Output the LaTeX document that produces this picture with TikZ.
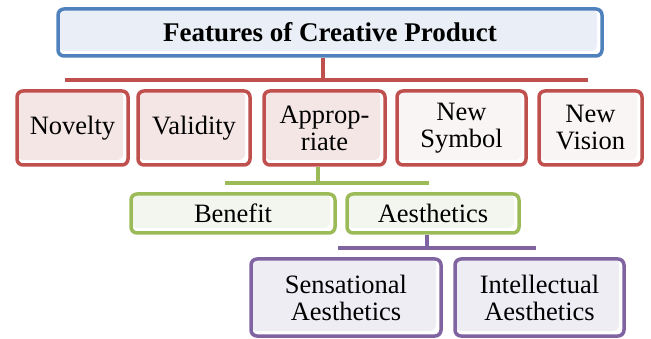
\documentclass[tikz,border=0pt]{standalone}
\usepackage{fontspec}
\setmainfont{Liberation Serif}

\definecolor{bluebd}{HTML}{4F81BD}
\definecolor{bluefl}{HTML}{EAEFF7}
\definecolor{redbd}{HTML}{C0504D}
\definecolor{redfl}{HTML}{F5E6E6}
\definecolor{redfltwo}{HTML}{FAF5F5}
\definecolor{greenbd}{HTML}{9BBB59}
\definecolor{greenfl}{HTML}{F3F6EE}
\definecolor{purplebd}{HTML}{8064A2}
\definecolor{purplefl}{HTML}{EFEDF4}

\tikzset{
	box/.style={draw,line width=3.5pt,rounded corners=6pt,align=center,inner sep=0pt,
		fill=white,font=\fontsize{26.5}{27}\selectfont,
		path picture={\fill[#1] (path picture bounding box.north west)
			rectangle ([shift={(-5pt,5pt)}]path picture bounding box.south east);}},
	featbox/.style={box=#1,draw=redbd,minimum height=74pt},
	featbox/.default=redfl,
	subbox/.style={box=greenfl,draw=greenbd,minimum height=39pt},
	aesbox/.style={box=purplefl,draw=purplebd,minimum height=77pt},
	bus/.style={line width=3.5pt}
}

\begin{document}
\begin{tikzpicture}[x=1pt,y=-1pt]
		\useasboundingbox (0,0) rectangle (651,339);

		\node (title) at (330,32.5) [box=bluefl,draw=bluebd,minimum width=544pt,minimum height=47pt,font=\fontsize{27}{27}\selectfont\bfseries] {Features of Creative Product};

		\node (novelty) at (72.5,128) [featbox,minimum width=111pt] {Novelty};
		\node (validity) at (194,128) [featbox,minimum width=112pt] {Validity};
		\node (approp) at (324.5,128) [featbox,minimum width=121pt] {Approp-\\riate};
		\node (symbol) at (461.5,128) [featbox=redfltwo,minimum width=129pt] {New\\Symbol};
		\node (vision) at (590.5,128) [featbox=redfltwo,minimum width=103pt] {New\\Vision};

		\node (benefit) at (233,213.5) [subbox,minimum width=204pt] {Benefit};
		\node (aesth) at (433,213.5) [subbox,minimum width=172pt] {Aesthetics};

		\node (sens) at (346,297.5) [aesbox,minimum width=190pt] {Sensational\\Aesthetics};
		\node (intel) at (539.5,297.5) [aesbox,minimum width=169pt] {Intellectual\\Aesthetics};

		% red bus under the title
		\coordinate (rtop) at (323,80);
		\coordinate (rleft) at (65,80);
		\coordinate (rright) at (588,80);
		\draw [bus,redbd] (title.south -| rtop) -- (rtop);
		\draw [bus,redbd] (rleft) -- (rright);

		% green bus under Appropriate
		\coordinate (gtop) at (318,183);
		\coordinate (gleft) at (225,183);
		\coordinate (gright) at (429,183);
		\draw [bus,greenbd] (approp.south -| gtop) -- (gtop);
		\draw [bus,greenbd] (gleft) -- (gright);

		% purple bus under Aesthetics
		\coordinate (ptop) at (427,248);
		\coordinate (pleft) at (338,248);
		\coordinate (pright) at (536,248);
		\draw [bus,purplebd] (aesth.south -| ptop) -- (ptop);
		\draw [bus,purplebd] (pleft) -- (pright);
	\end{tikzpicture}
\end{document}
